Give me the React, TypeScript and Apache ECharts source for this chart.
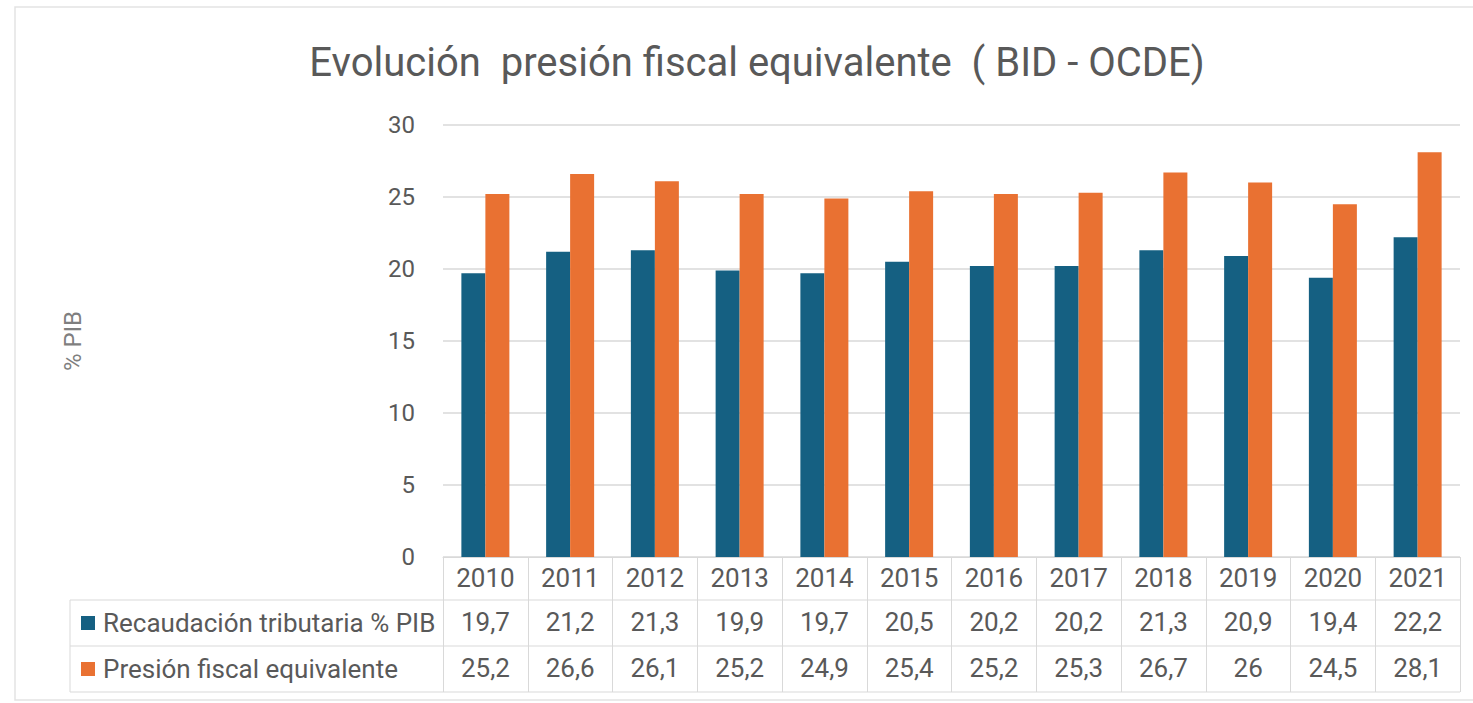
import React, { useEffect, useRef } from "react";
import * as echarts from "echarts";

const years = ["2010", "2011", "2012", "2013", "2014", "2015", "2016", "2017", "2018", "2019", "2020", "2021"];
const recaudacion = [19.7, 21.2, 21.3, 19.9, 19.7, 20.5, 20.2, 20.2, 21.3, 20.9, 19.4, 22.2];
const presion = [25.2, 26.6, 26.1, 25.2, 24.9, 25.4, 25.2, 25.3, 26.7, 26, 24.5, 28.1];
const seriesNames = ["Recaudación tributaria % PIB", "Presión fiscal equivalente"];
const titleText = "Evolución  presión fiscal equivalente  ( BID - OCDE)";
const yAxisName = "% PIB";

const BLUE = "#156082";
const ORANGE = "#E97132";
const GRID_LINE = "#d9d9d9";
const TEXT = "#595959";
const FONT = "Roboto";

const fmt = (v: number) => String(v).replace(".", ",");

export default function App() {
  const ref = useRef<HTMLDivElement>(null);
  useEffect(() => {
    if (!ref.current) return;
    const chart = echarts.init(ref.current, null, { renderer: "svg" });
    const gridLeft = 443;
    const gridRight = 1460;
    const axisY = 557;
    const rowLines = [600, 646, 692];
    const tableLeft = 70;
    const tableFont = 26;
    const labelStyle = {
      color: TEXT,
      fontFamily: FONT,
      fontSize: tableFont,
      lineHeight: 26,
      margin: 8,
      interval: 0,
    };
    const valueAxis = (data: string[], offset: number) => ({
      type: "category",
      data,
      position: "bottom",
      offset,
      axisLine: { show: false },
      axisTick: { show: false },
      axisLabel: labelStyle,
    });
    chart.setOption({
      animation: false,
      backgroundColor: "#ffffff",
      title: {
        text: titleText,
        left: 752,
        top: 37,
        textAlign: "center",
        textStyle: { color: TEXT, fontFamily: FONT, fontSize: 40, fontWeight: "normal" },
      },
      grid: { left: gridLeft, right: 1473 - gridRight, top: 125, bottom: 703 - axisY, containLabel: false },
      xAxis: [
        {
          type: "category",
          data: years,
          position: "bottom",
          axisLine: { show: true, lineStyle: { color: GRID_LINE, width: 1 } },
          axisTick: { show: true, length: 135, lineStyle: { color: GRID_LINE, width: 1 } },
          axisLabel: labelStyle,
        },
        valueAxis(recaudacion.map(fmt), 44),
        valueAxis(presion.map(fmt), 90),
      ],
      yAxis: {
        type: "value",
        min: 0,
        max: 30,
        interval: 5,
        name: yAxisName,
        nameLocation: "middle",
        nameRotate: 90,
        nameGap: 358,
        nameTextStyle: { color: "#7f7f7f", fontFamily: FONT, fontSize: 24 },
        axisLine: { show: false },
        axisTick: { show: false },
        axisLabel: { color: TEXT, fontFamily: FONT, fontSize: 24, margin: 28 },
        splitLine: { lineStyle: { color: GRID_LINE, width: 1.5 } },
      },
      series: [
        {
          name: seriesNames[0],
          type: "bar",
          data: recaudacion,
          barWidth: 24,
          barGap: "0%",
          itemStyle: { color: BLUE },
        },
        {
          name: seriesNames[1],
          type: "bar",
          data: presion,
          barWidth: 24,
          barGap: "0%",
          itemStyle: { color: ORANGE },
        },
      ],
      graphic: [
        {
          type: "rect",
          shape: { x: 15, y: 7, width: 1473, height: 693 },
          style: { fill: "none", stroke: "#e3e3e3", lineWidth: 1.5 },
          silent: true,
        },
        ...rowLines.map((y) => ({
          type: "line",
          shape: { x1: tableLeft, y1: y, x2: gridRight, y2: y },
          style: { stroke: GRID_LINE, lineWidth: 1 },
          silent: true,
        })),
        {
          type: "line",
          shape: { x1: tableLeft, y1: rowLines[0], x2: tableLeft, y2: rowLines[2] },
          style: { stroke: GRID_LINE, lineWidth: 1 },
          silent: true,
        },
        ...seriesNames.flatMap((name, i) => {
          const cy = (rowLines[i] + rowLines[i + 1]) / 2;
          return [
            {
              type: "rect",
              shape: { x: 81, y: cy - 7, width: 14, height: 14 },
              style: { fill: i === 0 ? BLUE : ORANGE },
              silent: true,
            },
            {
              type: "text",
              x: 103,
              y: cy,
              style: {
                text: name,
                fill: TEXT,
                font: `26px ${FONT}`,
                verticalAlign: "middle",
              },
              silent: true,
            },
          ];
        }),
      ],
    });
    return () => chart.dispose();
  }, []);
  return <div ref={ref} style={{ position: "fixed", left: 0, top: 0, width: 1473, height: 703 }} />;
}
